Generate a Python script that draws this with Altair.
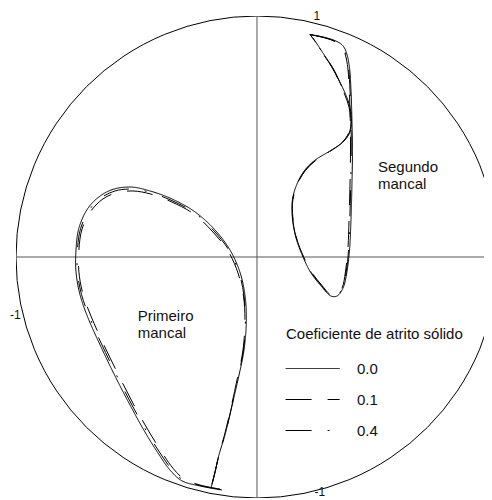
import altair as alt
import pandas as pd

# ---- data (unit circle coordinates) ----
series_labels = ["0.0", "0.1", "0.4"]

# Primeiro mancal
p1_x_00 = [-0.145,-0.237,-0.311,-0.361,-0.411,-0.465,-0.527,-0.589,-0.651,-0.701,-0.734,-0.751,-0.751,-0.739,-0.701,-0.651,-0.593,-0.519,-0.444,-0.353,-0.257,-0.174,-0.112,-0.071,-0.050,-0.044,-0.054,-0.079,-0.108,-0.133,-0.158,-0.174,-0.191]
p1_y_00 = [-0.967,-0.950,-0.929,-0.884,-0.813,-0.726,-0.614,-0.494,-0.365,-0.253,-0.158,-0.062,0.029,0.120,0.203,0.253,0.282,0.290,0.274,0.241,0.187,0.112,0.029,-0.062,-0.158,-0.261,-0.386,-0.510,-0.635,-0.739,-0.822,-0.892,-0.959]
p1_x_01 = [-0.154,-0.237,-0.303,-0.349,-0.398,-0.452,-0.515,-0.577,-0.639,-0.689,-0.722,-0.739,-0.739,-0.726,-0.689,-0.639,-0.585,-0.515,-0.440,-0.353,-0.261,-0.183,-0.120,-0.079,-0.056,-0.050,-0.058,-0.083,-0.110,-0.135,-0.158,-0.174,-0.191]
p1_y_01 = [-0.963,-0.946,-0.921,-0.876,-0.805,-0.718,-0.606,-0.485,-0.357,-0.245,-0.154,-0.062,0.029,0.116,0.191,0.241,0.266,0.274,0.261,0.228,0.178,0.104,0.025,-0.066,-0.162,-0.261,-0.386,-0.510,-0.635,-0.739,-0.822,-0.892,-0.959]
p1_x_04 = [-0.149,-0.237,-0.307,-0.355,-0.405,-0.459,-0.521,-0.583,-0.645,-0.695,-0.728,-0.745,-0.745,-0.732,-0.695,-0.645,-0.589,-0.517,-0.442,-0.353,-0.259,-0.178,-0.116,-0.075,-0.054,-0.048,-0.056,-0.081,-0.108,-0.133,-0.158,-0.174,-0.191]
p1_y_04 = [-0.965,-0.948,-0.925,-0.880,-0.809,-0.722,-0.610,-0.490,-0.361,-0.249,-0.156,-0.062,0.029,0.118,0.197,0.247,0.274,0.282,0.268,0.234,0.183,0.108,0.027,-0.064,-0.160,-0.261,-0.386,-0.510,-0.635,-0.739,-0.822,-0.892,-0.959]

# Segundo mancal
p2_x_00 = [0.220,0.282,0.328,0.357,0.373,0.384,0.390,0.394,0.396,0.394,0.390,0.384,0.373,0.357,0.332,0.307,0.266,0.224,0.191,0.162,0.147,0.147,0.166,0.199,0.241,0.303,0.357,0.386,0.392,0.386,0.369,0.344,0.315,0.274,0.241,0.220]
p2_y_00 = [0.923,0.911,0.896,0.876,0.842,0.784,0.693,0.568,0.444,0.299,0.154,0.029,-0.062,-0.129,-0.162,-0.162,-0.120,-0.066,0.000,0.079,0.162,0.237,0.303,0.361,0.402,0.440,0.477,0.519,0.568,0.622,0.672,0.726,0.784,0.846,0.896,0.923]
p2_x_01 = [0.220,0.282,0.326,0.353,0.367,0.377,0.383,0.387,0.388,0.386,0.382,0.377,0.367,0.353,0.330,0.307,0.268,0.226,0.193,0.164,0.149,0.149,0.168,0.201,0.243,0.303,0.355,0.382,0.388,0.382,0.365,0.342,0.313,0.272,0.240,0.220]
p2_y_01 = [0.923,0.909,0.893,0.872,0.838,0.784,0.693,0.568,0.444,0.299,0.154,0.029,-0.062,-0.129,-0.158,-0.158,-0.116,-0.062,0.002,0.079,0.162,0.237,0.303,0.359,0.400,0.438,0.477,0.519,0.568,0.622,0.672,0.726,0.784,0.846,0.896,0.923]
p2_x_04 = [0.220,0.282,0.327,0.355,0.370,0.380,0.386,0.390,0.391,0.389,0.385,0.380,0.370,0.355,0.331,0.307,0.267,0.225,0.192,0.163,0.148,0.148,0.167,0.200,0.242,0.303,0.356,0.384,0.390,0.384,0.367,0.343,0.314,0.273,0.240,0.220]
p2_y_04 = [0.923,0.910,0.894,0.874,0.840,0.784,0.693,0.568,0.444,0.299,0.154,0.029,-0.062,-0.129,-0.160,-0.160,-0.118,-0.064,0.001,0.079,0.162,0.237,0.303,0.360,0.401,0.439,0.477,0.519,0.568,0.622,0.672,0.726,0.784,0.846,0.896,0.923]

axis_extent = [-1.0, 1.0]
circle_center = [0.0]

tick_text = ["1", "-1", "-1"]
tick_x = [0.248, -1.003, 0.261]
tick_y = [0.970, -0.268, -1.004]

note_text = ["Segundo\nmancal", "Primeiro\nmancal"]
note_x = [0.502, -0.495]
note_y = [0.354, -0.266]

# ---- tables ----
rows = []
curves = [
    ("0.0", "P1", p1_x_00, p1_y_00), ("0.1", "P1", p1_x_01, p1_y_01), ("0.4", "P1", p1_x_04, p1_y_04),
    ("0.0", "P2", p2_x_00, p2_y_00), ("0.1", "P2", p2_x_01, p2_y_01), ("0.4", "P2", p2_x_04, p2_y_04),
]
for s, loop, xs_, ys_ in curves:
    for i, (xv, yv) in enumerate(zip(xs_, ys_)):
        rows.append({"x": xv, "y": yv, "i": i, "serie": s, "grp": s + loop})
df = pd.DataFrame(rows)

ticks_df = pd.DataFrame({"x": tick_x, "y": tick_y, "t": tick_text})
notes_df = pd.DataFrame({"x": note_x, "y": note_y, "t": note_text})
center_df = pd.DataFrame({"x": circle_center, "y": circle_center})
hl_df = pd.DataFrame({"x": [axis_extent[0]], "x2": [axis_extent[1]], "y": [0.0]})
vl_df = pd.DataFrame({"y": [axis_extent[0]], "y2": [axis_extent[1]], "x": [0.0]})

FONT = "Liberation Sans"
xs = alt.Scale(domain=[-1.0, 0.942], nice=False, zero=False)
ys = alt.Scale(domain=[-1.0, 1.0], nice=False, zero=False)
X = alt.X("x:Q", scale=xs, axis=None)
Y = alt.Y("y:Q", scale=ys, axis=None)

circle = alt.Chart(center_df).mark_point(
    shape="circle", size=232324, filled=False, color="black", strokeWidth=1, opacity=1, clip=True
).encode(x=X, y=Y)

hline = alt.Chart(hl_df).mark_rule(color="#555", strokeWidth=1, clip=True).encode(
    x=X, x2="x2:Q", y=Y
)
vline = alt.Chart(vl_df).mark_rule(color="#555", strokeWidth=1, clip=True).encode(
    y=Y, y2="y2:Q", x=X
)

lines = alt.Chart(df).mark_line(color="black", strokeWidth=1, interpolate="catmull-rom", clip=True).encode(
    x=X,
    y=Y,
    order="i:Q",
    detail="grp:N",
    strokeDash=alt.StrokeDash(
        "serie:N",
        scale=alt.Scale(domain=series_labels, range=[[1, 0], [26, 16], [26, 16, 2, 16]]),
        legend=alt.Legend(
            title="Coeficiente de atrito sólido",
            orient="none", legendX=270, legendY=311, padding=0,
            symbolType="M-1.1,0H4.9", symbolSize=324, symbolStrokeWidth=1,
            symbolStrokeColor="black",
            labelFont=FONT, labelFontSize=15, labelColor="#111", labelOffset=52,
            titleFont=FONT, titleFontSize=15, titleFontWeight="normal", titleColor="#111",
            titlePadding=17, rowPadding=13,
        ),
    ),
)

ticks = alt.Chart(ticks_df).mark_text(font=FONT, fontSize=12, color="#111", align="center", baseline="bottom").encode(
    x=X, y=Y, text="t:N"
)
notes = alt.Chart(notes_df).mark_text(
    font=FONT, fontSize=15, color="#111", align="left", baseline="alphabetic", lineBreak="\n", lineHeight=17
).encode(x=X, y=Y, text="t:N")

chart = alt.layer(circle, hline, vline, lines, ticks, notes).properties(
    width=468, height=482,
    autosize=alt.AutoSizeParams(type="none"),
    padding={"left": 8, "top": 8, "right": 0, "bottom": 2},
).configure_view(stroke=None)

chart.save("out.html", embed_options={"renderer": "svg", "actions": False})
